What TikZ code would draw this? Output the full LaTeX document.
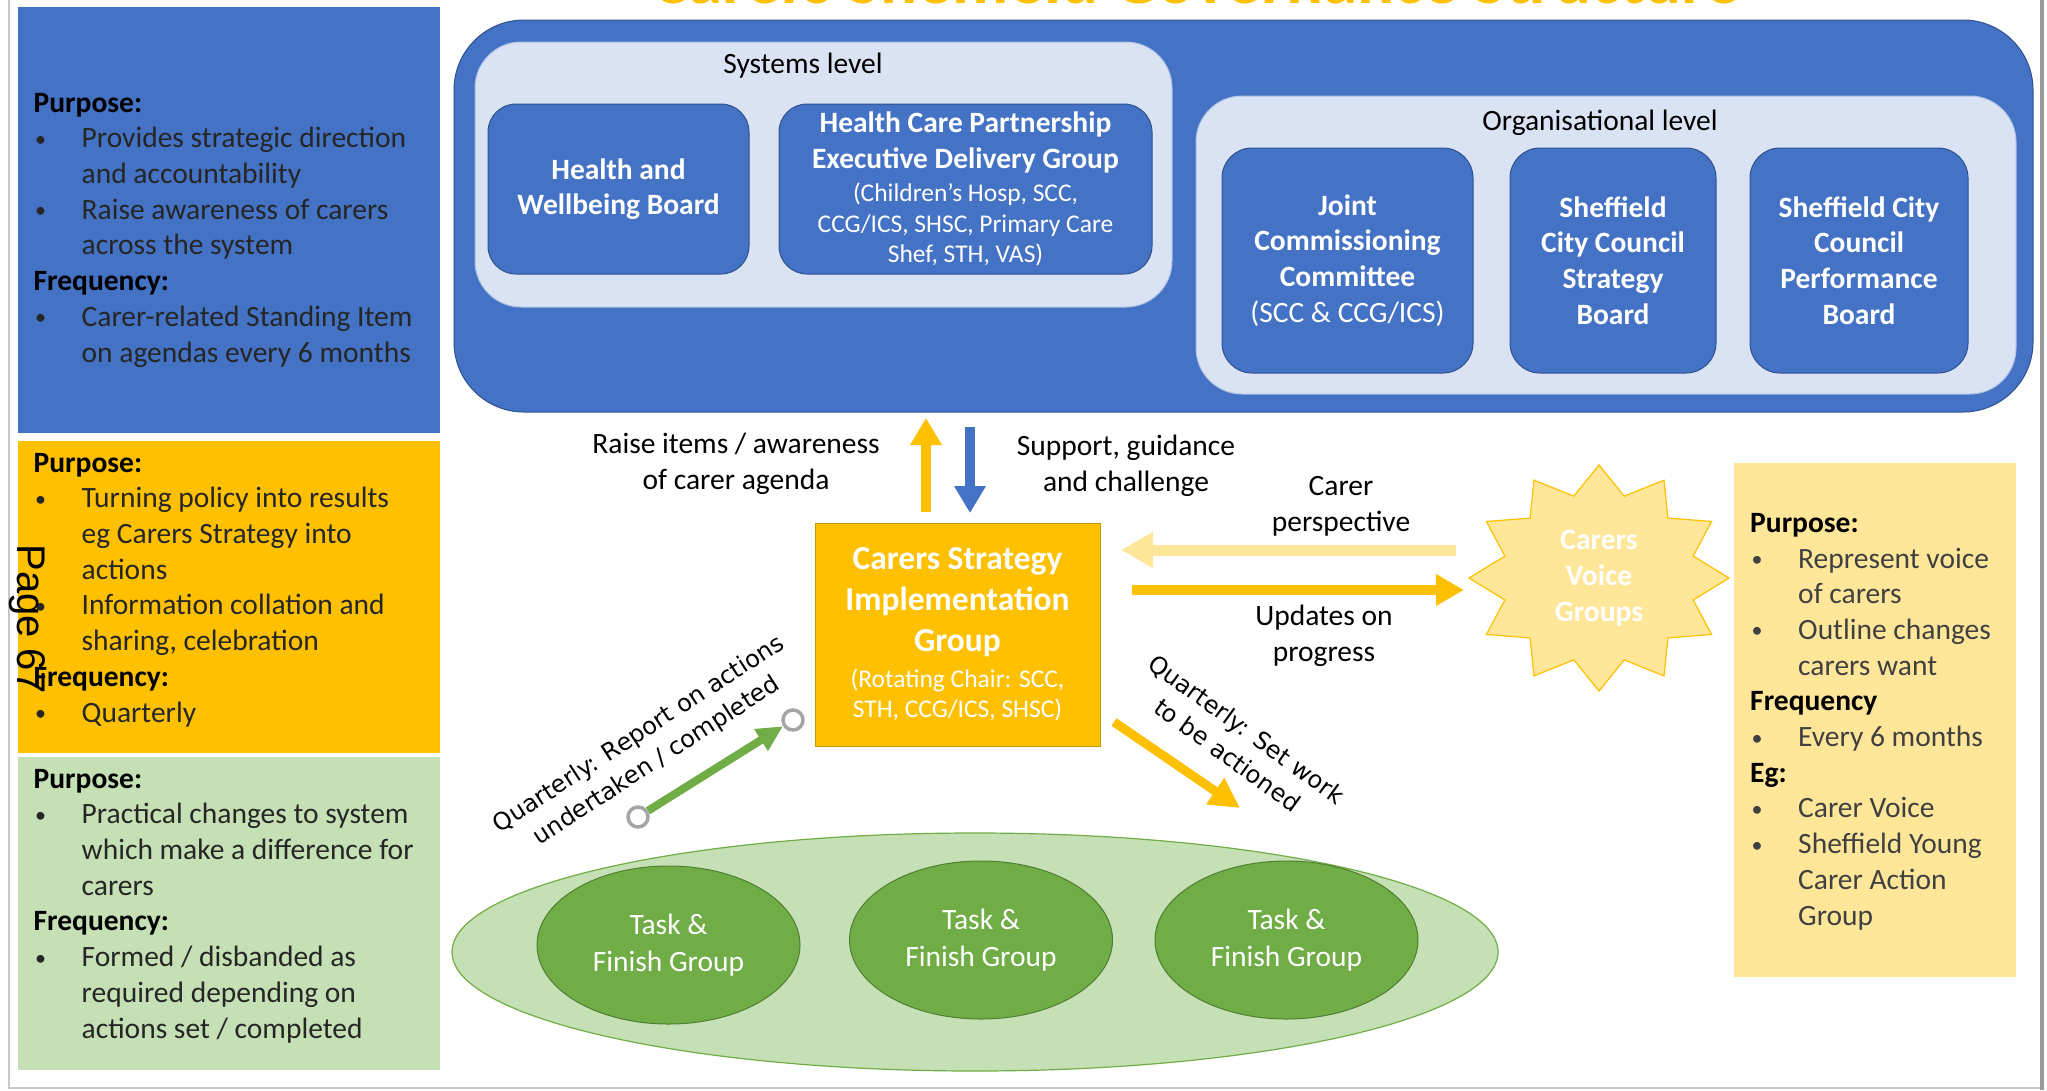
\documentclass[tikz,border=0pt]{standalone}
\usepackage{fontspec}
\setmainfont{Carlito}
\newfontfamily\dejavufont{DejaVu Sans}
\newfontfamily\arialfont{Liberation Sans}
\usetikzlibrary{arrows.meta,shapes.geometric}
\definecolor{cblue}{HTML}{4472C4}
\definecolor{cbluedark}{HTML}{2F528F}
\definecolor{clight}{HTML}{DAE3F3}
\definecolor{corange}{HTML}{FFC000}
\definecolor{corangedark}{HTML}{C99A00}
\definecolor{cyellow}{HTML}{FFE699}
\definecolor{cgreenl}{HTML}{C5E0B4}
\definecolor{cgreen}{HTML}{70AD47}
\definecolor{cgreendark}{HTML}{507E32}
\definecolor{cgrey}{HTML}{A5A5A5}
\definecolor{ctext}{HTML}{262626}
\definecolor{ctextb}{HTML}{404040}
\definecolor{cframe}{HTML}{C8C8C8}
\definecolor{cframedark}{HTML}{9A9A9A}
\newcommand{\fsz}[2]{\fontsize{#1}{#2}\selectfont}
\newcommand{\bitem}[1]{\hspace*{1.5pt}\makebox[46.5pt][l]{\raisebox{1.5pt}{\fsz{22}{22}\textbullet}}#1}
\newcommand{\bcont}[1]{\hspace*{48pt}#1}
\newcommand{\hd}[1]{{\bfseries\color{black}#1}}
\tikzset{
  panel/.style={rectangle, draw=none, inner sep=0, outer sep=0},
  ptext/.style={anchor=base west, align=left, inner sep=0, text=ctext, font=\fsz{29.5}{35.7}},
  bigbox/.style={rectangle, fill=cblue, draw=cbluedark, line width=1pt, rounded corners=70pt, inner sep=0},
  levelbox/.style={rectangle, fill=clight, draw=cblue!45, line width=1pt, rounded corners=46pt, inner sep=0},
  orgbox/.style={rectangle, fill=cblue, draw=cbluedark, line width=1pt, rounded corners=30pt, inner sep=0, text=white, align=center, font=\fsz{29.5}{35.7}\bfseries},
  lbl/.style={anchor=base, align=center, inner sep=0, text=black, font=\fsz{29.5}{35.7}},
  tfg/.style={ellipse, fill=cgreen, draw=cgreendark, line width=1pt, minimum width=263, minimum height=158, inner sep=0, text=white, align=center, font=\fsz{29.5}{37}},
  ring/.style={circle, draw=cgrey, line width=3.5pt, fill=white, minimum size=20pt, inner sep=0},
  slant/.style={align=center, inner sep=0, text=black, font=\dejavufont\fsz{24}{32}},
  fat/.style={line cap=butt}
}
\begin{document}
\begin{tikzpicture}[x=1pt,y=-1pt]
\useasboundingbox (0,0) rectangle (2047,1090);
\fill[white] (0,0) rectangle (2047,1090);

% title (cut off at the top edge)
\begin{scope}
\clip (0,0) rectangle (2047,1090);
\node[anchor=base, inner sep=0, font=\fsz{69}{72}\bfseries, text=corange] (title) at (1196,3) {Carers Sheffield Governance Structure};
\end{scope}

% page frame
\draw[color=cframe, line width=1.2pt] (9,0) -- (9,1088) -- (2040,1088);
\draw[color=cframedark, line width=4pt] (2042,0) -- (2042,1090);

% side panels
\node[panel, fill=cblue, minimum width=422, minimum height=426] (pnlsys) at (229,220) {};
\node[panel, fill=corange, minimum width=422, minimum height=312] (pnlcsig) at (229,597) {};
\node[panel, fill=cgreenl, minimum width=422, minimum height=313] (pnltf) at (229,913.5) {};
\node[panel, fill=cyellow, minimum width=282, minimum height=514] (pnlcv) at (1875,720) {};

% (base anchor = baseline of the last line)
\node[ptext] (txtsys) at (33.5,362) {\hd{Purpose:}\\
\bitem{Provides strategic direction}\\
\bcont{and accountability}\\
\bitem{Raise awareness of carers}\\
\bcont{across the system}\\
\hd{Frequency:}\\
\bitem{Carer-related Standing Item}\\
\bcont{on agendas every 6 months}};

\node[ptext] (txtcsig) at (33.5,722) {\hd{Purpose:}\\
\bitem{Turning policy into results}\\
\bcont{eg Carers Strategy into}\\
\bcont{actions}\\
\bitem{Information collation and}\\
\bcont{sharing, celebration}\\
\hd{Frequency:}\\
\bitem{Quarterly}};

\node[ptext] (txttf) at (33.5,1038) {\hd{Purpose:}\\
\bitem{Practical changes to system}\\
\bcont{which make a difference for}\\
\bcont{carers}\\
\hd{Frequency:}\\
\bitem{Formed / disbanded as}\\
\bcont{required depending on}\\
\bcont{actions set / completed}};

\node[ptext, text=ctextb] (txtcv) at (1750,925) {\hd{Purpose:}\\
\bitem{Represent voice}\\
\bcont{of carers}\\
\bitem{Outline changes}\\
\bcont{carers want}\\
\hd{Frequency}\\
\bitem{Every 6 months}\\
\hd{Eg:}\\
\bitem{Carer Voice}\\
\bitem{Sheffield Young}\\
\bcont{Carer Action}\\
\bcont{Group}};

% governance structure
\node[bigbox, minimum width=1579, minimum height=392] (gov) at (1243.5,216) {};
\node[levelbox, minimum width=697, minimum height=265] (syslev) at (823.5,174.5) {};
\node[levelbox, minimum width=820, minimum height=298] (orglev) at (1606,245) {};
\node[lbl] (syslbl) at (803,73) {Systems level};
\node[lbl] (orglbl) at (1600,130) {Organisational level};

\node[orgbox, rounded corners=28pt, minimum width=261, minimum height=170] (hwb) at (618.5,189) {Health and\\Wellbeing Board};
\node[orgbox, align=flush center, rounded corners=28pt, minimum width=373, minimum height=170, text width=373pt] (hcp) at (965.5,189) {Health Care Partnership\\Executive Delivery Group\par
\vspace{3pt}{\mdseries\fsz{25.5}{30.5}(Children’s Hosp, SCC,\\CCG/ICS, SHSC, Primary Care\\Shef, STH, VAS)\par}};

\node[orgbox, minimum width=251, minimum height=225] (jcc) at (1347.5,260.5) {Joint\\Commissioning\\Committee\\{\mdseries(SCC \& CCG/ICS)}};
\node[orgbox, minimum width=206, minimum height=225] (sccsb) at (1613,260.5) {Sheffield\\City Council\\Strategy\\Board};
\node[orgbox, minimum width=218, minimum height=225] (sccpb) at (1859,260.5) {Sheffield City\\Council\\Performance\\Board};

% implementation group
\node[rectangle, fill=corange, draw=corangedark, line width=1pt, minimum width=285, minimum height=223, text width=285pt, inner sep=0, align=flush center, text=white, font=\fsz{33.5}{41}\bfseries] (csig) at (957.5,634.5) {Carers Strategy\\Implementation\\Group\par
\vspace{6pt}{\mdseries\fsz{25.5}{30}(Rotating Chair: SCC,\\STH, CCG/ICS, SHSC)\par}};

% vertical arrows
\coordinate (upA) at (926,512);
\coordinate (upB) at (926,418);
\coordinate (dnA) at (970,427);
\coordinate (dnB) at (970,513);
\draw[fat, draw=corange, line width=10pt, -{Triangle[length=27pt,width=30pt]}] (upA) -- (upB);
\draw[fat, draw=cblue, line width=10pt, -{Triangle[length=27pt,width=30pt]}] (dnA) -- (dnB);
\node[lbl] (raiselbl) at (736,489) {Raise items / awareness\\of carer agenda};
\node[lbl] (supportlbl) at (1126,491) {Support, guidance\\and challenge};

% carers voice groups
\begin{scope}[shift={(1599,578)}]
\draw[fill=cyellow, draw=corange, line width=1.2pt, line join=miter] (90:130 and 113)
  \foreach \a in {0,30,...,330} { -- (\a+90:130 and 113) -- (\a+105:97.5 and 84.75) } -- cycle;
\end{scope}
\node[align=center, inner sep=0, text=white, font=\fsz{29.5}{36}\bfseries] (cvg) at (1599,578) {Carers\\Voice\\Groups};

\coordinate (cpA) at (1456,550);
\coordinate (cpB) at (1121,550);
\coordinate (udA) at (1132,590);
\coordinate (udB) at (1464,590);
\draw[fat, draw=cyellow, line width=11pt, -{Triangle[length=32pt,width=34pt]}] (cpA) -- (cpB);
\draw[fat, draw=corange, line width=10pt, -{Triangle[length=28pt,width=30pt]}] (udA) -- (udB);
\node[lbl] (carerlbl) at (1341,531) {Carer\\perspective};
\node[lbl] (updlbl) at (1324,661) {Updates on\\progress};

% task and finish groups
\node[ellipse, fill=cgreenl, draw=cgreen, line width=1.2pt, minimum width=1046, minimum height=238, inner sep=0] (tfall) at (975,952) {};
\node[tfg] (tf1) at (668.5,945) {Task \&\\Finish Group};
\node[tfg] (tf2) at (981,940) {Task \&\\Finish Group};
\node[tfg] (tf3) at (1286.5,940) {Task \&\\Finish Group};

% reporting arrows
\node[ring] (gs) at (638,817) {};
\node[ring] (ge) at (793,720) {};
\draw[fat, draw=cgreen, line width=8pt, -{Triangle[length=26pt,width=24pt]}] (gs) -- (ge);
\node[slant, rotate=33] (rptlbl) at (648,748) {Quarterly: Report on actions\\undertaken / completed};

\coordinate (swA) at (1114,722);
\coordinate (swB) at (1240,808);
\draw[fat, draw=corange, line width=9pt, -{Triangle[length=30pt,width=30pt]}] (swA) -- (swB);
\node[slant, rotate=-36] (setlbl) at (1237,742) {Quarterly: Set work\\to be actioned};

% page number overlay
\node[rotate=-90, inner sep=0, text=black, font=\arialfont\fsz{40}{44}] (pagenum) at (27,619) {Page 67};
\end{tikzpicture}
\end{document}
